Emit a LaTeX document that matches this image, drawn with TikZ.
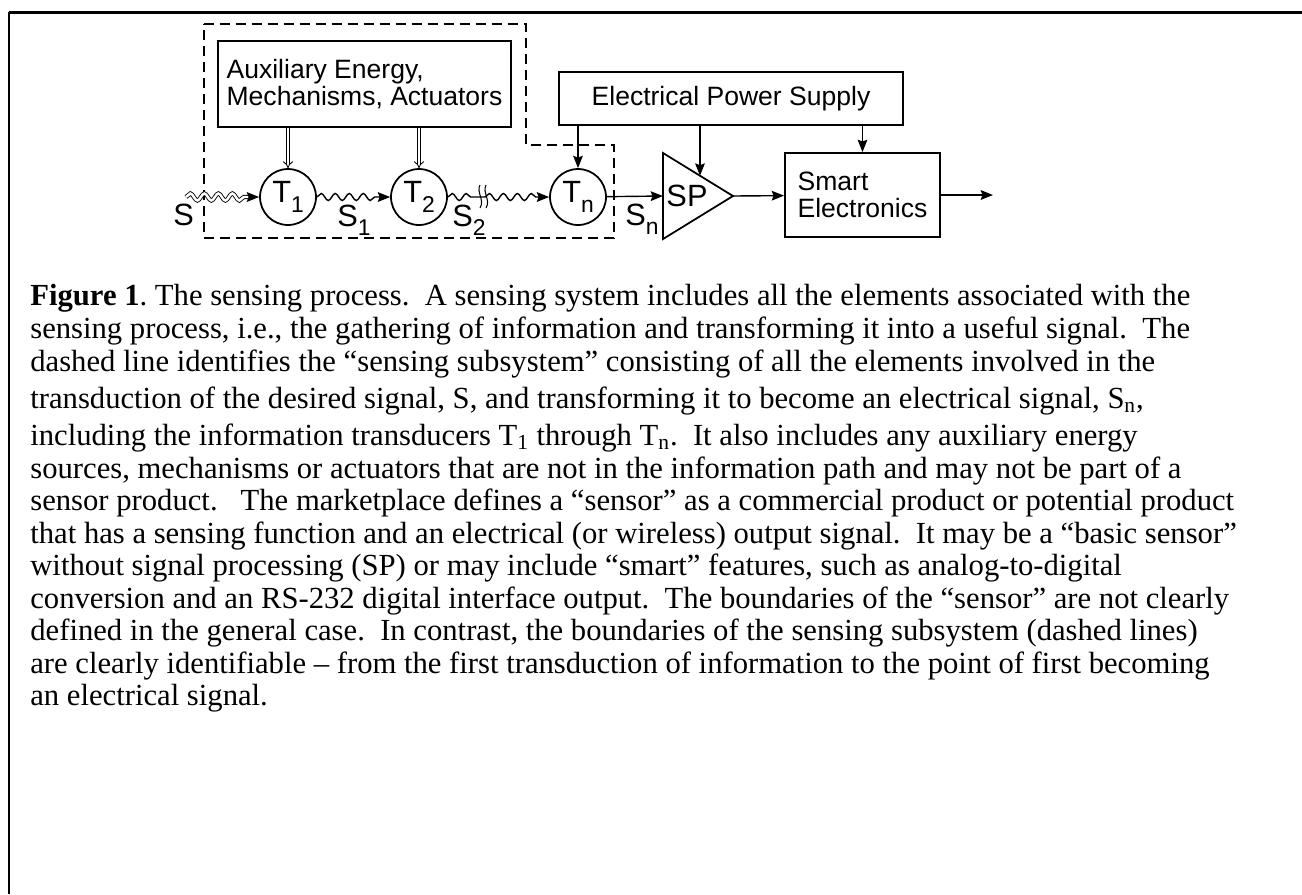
\documentclass[tikz,border=0pt]{standalone}
\usepackage{fontspec}
\setmainfont{Liberation Serif}
\setsansfont{Liberation Sans}
\usetikzlibrary{decorations.pathmorphing, arrows.meta}
\newcommand{\diagsize}{\fontsize{15.1}{15.4}\selectfont}
\newcommand{\lblsize}{\fontsize{17.5}{18}\selectfont}
\newcommand{\figtextsize}{\fontsize{17.45}{18.8}\selectfont}
\newcommand{\lsub}[1]{\raisebox{-0.3em}{\fontsize{13}{13}\selectfont #1}}
\frenchspacing

\begin{document}
\begin{tikzpicture}[x=0.02cm, y=-0.02cm, >={Stealth[length=7pt, width=5.5pt, inset=1pt]},
        box/.style={draw, line width=1.1pt, font=\sffamily\diagsize, inner sep=0pt},
        trans/.style={draw, circle, line width=1pt, minimum size=1.12cm, inner sep=0pt, font=\sffamily\lblsize},
        lbl/.style={font=\sffamily\lblsize, inner sep=0pt},
        wave/.style={line width=0.8pt, decorate, decoration={snake, amplitude=0.07cm, segment length=0.28cm, post length=0.2cm}},
        capline/.style={anchor=base west, inner sep=0pt, font=\figtextsize}]
    \useasboundingbox (0,0) rectangle (1302,894);

    % Rahmen
    \draw[line width=1.7pt] (9,12) -- (1302,12);
    \draw[line width=1.2pt] (9,12) -- (9,894);

    % Wandler T1 ... Tn
    \node[trans] (T1) at (288,197) {T\lsub{1}};
    \node[trans] (T2) at (419,197) {T\lsub{2}};
    \node[trans] (Tn) at (578,197) {T\lsub{n}};

    % Kaesten
    \node[box, minimum width=5.86cm, minimum height=1.72cm, align=left] (aux) at (364.5,84) {Auxiliary Energy,\\Mechanisms, Actuators};
    \node[box, minimum width=6.88cm, minimum height=1.06cm] (psu) at (731,98.5) {Electrical Power Supply};
    \node[box, minimum width=3.1cm, minimum height=1.68cm, align=left] (smart) at (862.5,195) {Smart\\Electronics};

    % Signalverarbeitung (Dreieck)
    \draw[line width=1pt] (663,153) -- (733,196) coordinate (spout) -- (663,239) -- cycle;
    \coordinate (spin) at (663,196);
    \coordinate (sptop) at (700,175.7);
    \node[lbl] (sp) at (687,196) {SP};

    % Sensing-Subsystem (gestrichelt)
    \draw[line width=1.1pt, dash pattern=on 0.2cm off 0.12cm]
        (204,24) -- (526,24) -- (526,145) -- (614,145) -- (614,238) -- (204,238) -- cycle;

    % Informationspfad
    \coordinate (sin) at (186,197);
    \draw[wave, double, double distance=1.4pt, line width=0.5pt, shorten >=0.12cm] (sin) -- (T1.west);
    \draw[->, line width=0.8pt] ([xshift=-0.2cm]T1.west) -- (T1.west);
    \draw[wave, ->] (T1) -- (T2);
    \coordinate (brk) at (485,197);
    \draw[wave] (T2) -- (brk);
    \draw[wave, ->] (brk) -- (Tn);
    \draw[line width=0.6pt] (480,185) .. controls (476,192) and (485,200) .. (480,208);
    \draw[line width=0.6pt] (486,185) .. controls (482,192) and (491,200) .. (486,208);
    \draw[->, line width=0.8pt] (Tn) -- (spin);
    \draw[->, line width=0.8pt] (spout) -- (smart);
    \coordinate (out) at (993,195);
    \draw[->, line width=0.8pt] (smart) -- (out);

    % Energiezufuhr
    \draw[->, line width=0.8pt] (psu.south -| sptop) -- (sptop);
    \draw[->, line width=0.8pt] (psu.south -| smart.north) -- (smart);
    \draw[->, line width=0.8pt] (psu.south -| Tn.north) -- (Tn);
    \draw[double, double distance=1.5pt, line width=0.5pt, -{Implies}] (aux.south -| T1.north) -- (T1);
    \draw[double, double distance=1.5pt, line width=0.5pt, -{Implies}] (aux.south -| T2.north) -- (T2);

    % Signalbezeichnungen
    \node[lbl, anchor=base west] (s0) at (173,225) {S};
    \node[lbl, anchor=base west] (s1) at (337,226) {S\lsub{1}};
    \node[lbl, anchor=base west] (s2) at (452,226) {S\lsub{2}};
    \node[lbl, anchor=base west] (sn) at (625,225) {S\lsub{n}};

    % Bildunterschrift
    \node[capline] (cap1) at (30,305) {\textbf{Figure 1}. The sensing process.\ \ A sensing system includes all the elements associated with the};
    \node[capline] (cap2) at (30,338) {sensing process, i.e., the gathering of information and transforming it into a useful signal.\ \ The};
    \node[capline] (cap3) at (30,371) {dashed line identifies the “sensing subsystem” consisting of all the elements involved in the};
    \node[capline] (cap4) at (30,408) {transduction of the desired signal, S, and transforming it to become an electrical signal, S\textsubscript{n},};
    \node[capline] (cap5) at (30,445) {including the information transducers T\textsubscript{1} through T\textsubscript{n}.\ \ It also includes any auxiliary energy};
    \node[capline] (cap6) at (30,478) {sources, mechanisms or actuators that are not in the information path and may not be part of a};
    \node[capline] (cap7) at (30,510) {sensor product.\ \ \ The marketplace defines a “sensor” as a commercial product or potential product};
    \node[capline] (cap8) at (30,543) {that has a sensing function and an electrical (or wireless) output signal.\ \ It may be a “basic sensor”};
    \node[capline] (cap9) at (30,575) {without signal processing (SP) or may include “smart” features, such as analog-to-digital};
    \node[capline] (cap10) at (30,608) {conversion and an RS-232 digital interface output.\ \ The boundaries of the “sensor” are not clearly};
    \node[capline] (cap11) at (30,640) {defined in the general case.\ \ In contrast, the boundaries of the sensing subsystem (dashed lines)};
    \node[capline] (cap12) at (30,673) {are clearly identifiable – from the first transduction of information to the point of first becoming};
    \node[capline] (cap13) at (30,705) {an electrical signal.};
\end{tikzpicture}
\end{document}
